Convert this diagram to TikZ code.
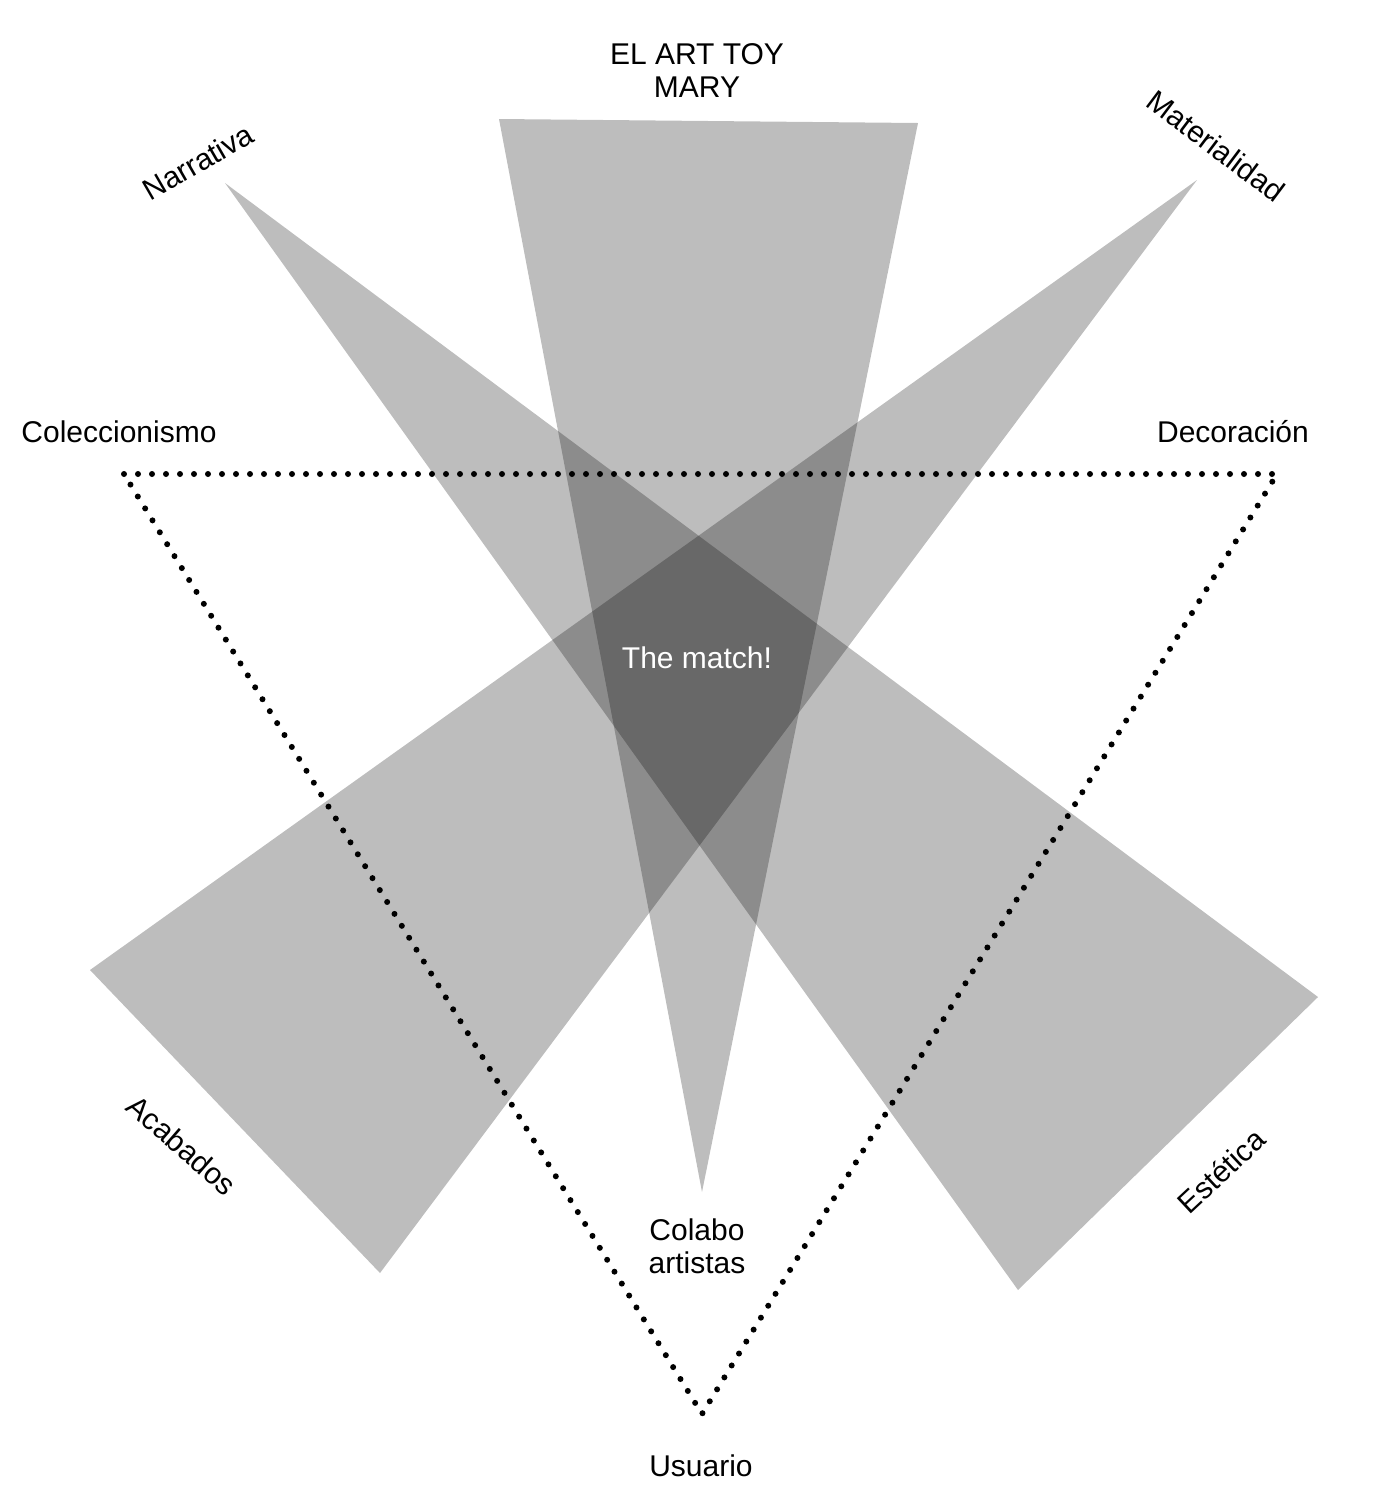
\documentclass[tikz,border=0pt]{standalone}
\usepackage{fontspec}
\setmainfont{Liberation Sans}

\begin{document}
\begin{tikzpicture}[x=0.5pt, y=-0.5pt, font=\fontsize{15}{16.5}\selectfont,
  wedge/.style={fill=black, fill opacity=0.26},
  dots/.style={line width=3pt, line cap=round, line join=round, dash pattern=on 0pt off 7pt},
  lbl/.style={align=center, inner sep=0pt}]
\useasboundingbox (0,0) rectangle (1378,1506);
% the three beams
\fill[wedge] (499,119) -- (918,123) -- (702,1192) -- cycle;
\fill[wedge] (225,183) -- (1318,997) -- (1018,1290) -- cycle;
\fill[wedge] (1197,180) -- (90,970) -- (380,1273) -- cycle;
% dotted triangle
\draw[dots] (124,474) -- (1277,474) -- (702,1414) -- cycle;
% labels
\node[lbl] (toy) at (697,71) {EL ART TOY\\MARY};
\node[lbl] (colec) at (119,432) {Coleccionismo};
\node[lbl] (deco) at (1233,432) {Decoración};
\node[lbl, text=white] (match) at (697,658) {The match!};
\node[lbl] (colabo) at (697,1246) {Colabo\\artistas};
\node[lbl] (usuario) at (701,1466) {Usuario};
\node[lbl, rotate=30] (narr) at (198,162) {Narrativa};
\node[lbl, rotate=-37] (mater) at (1216,146) {Materialidad};
\node[lbl, rotate=-41] (acab) at (182,1145) {Acabados};
\node[lbl, rotate=43] (estet) at (1221,1171) {Estética};
\end{tikzpicture}
\end{document}
